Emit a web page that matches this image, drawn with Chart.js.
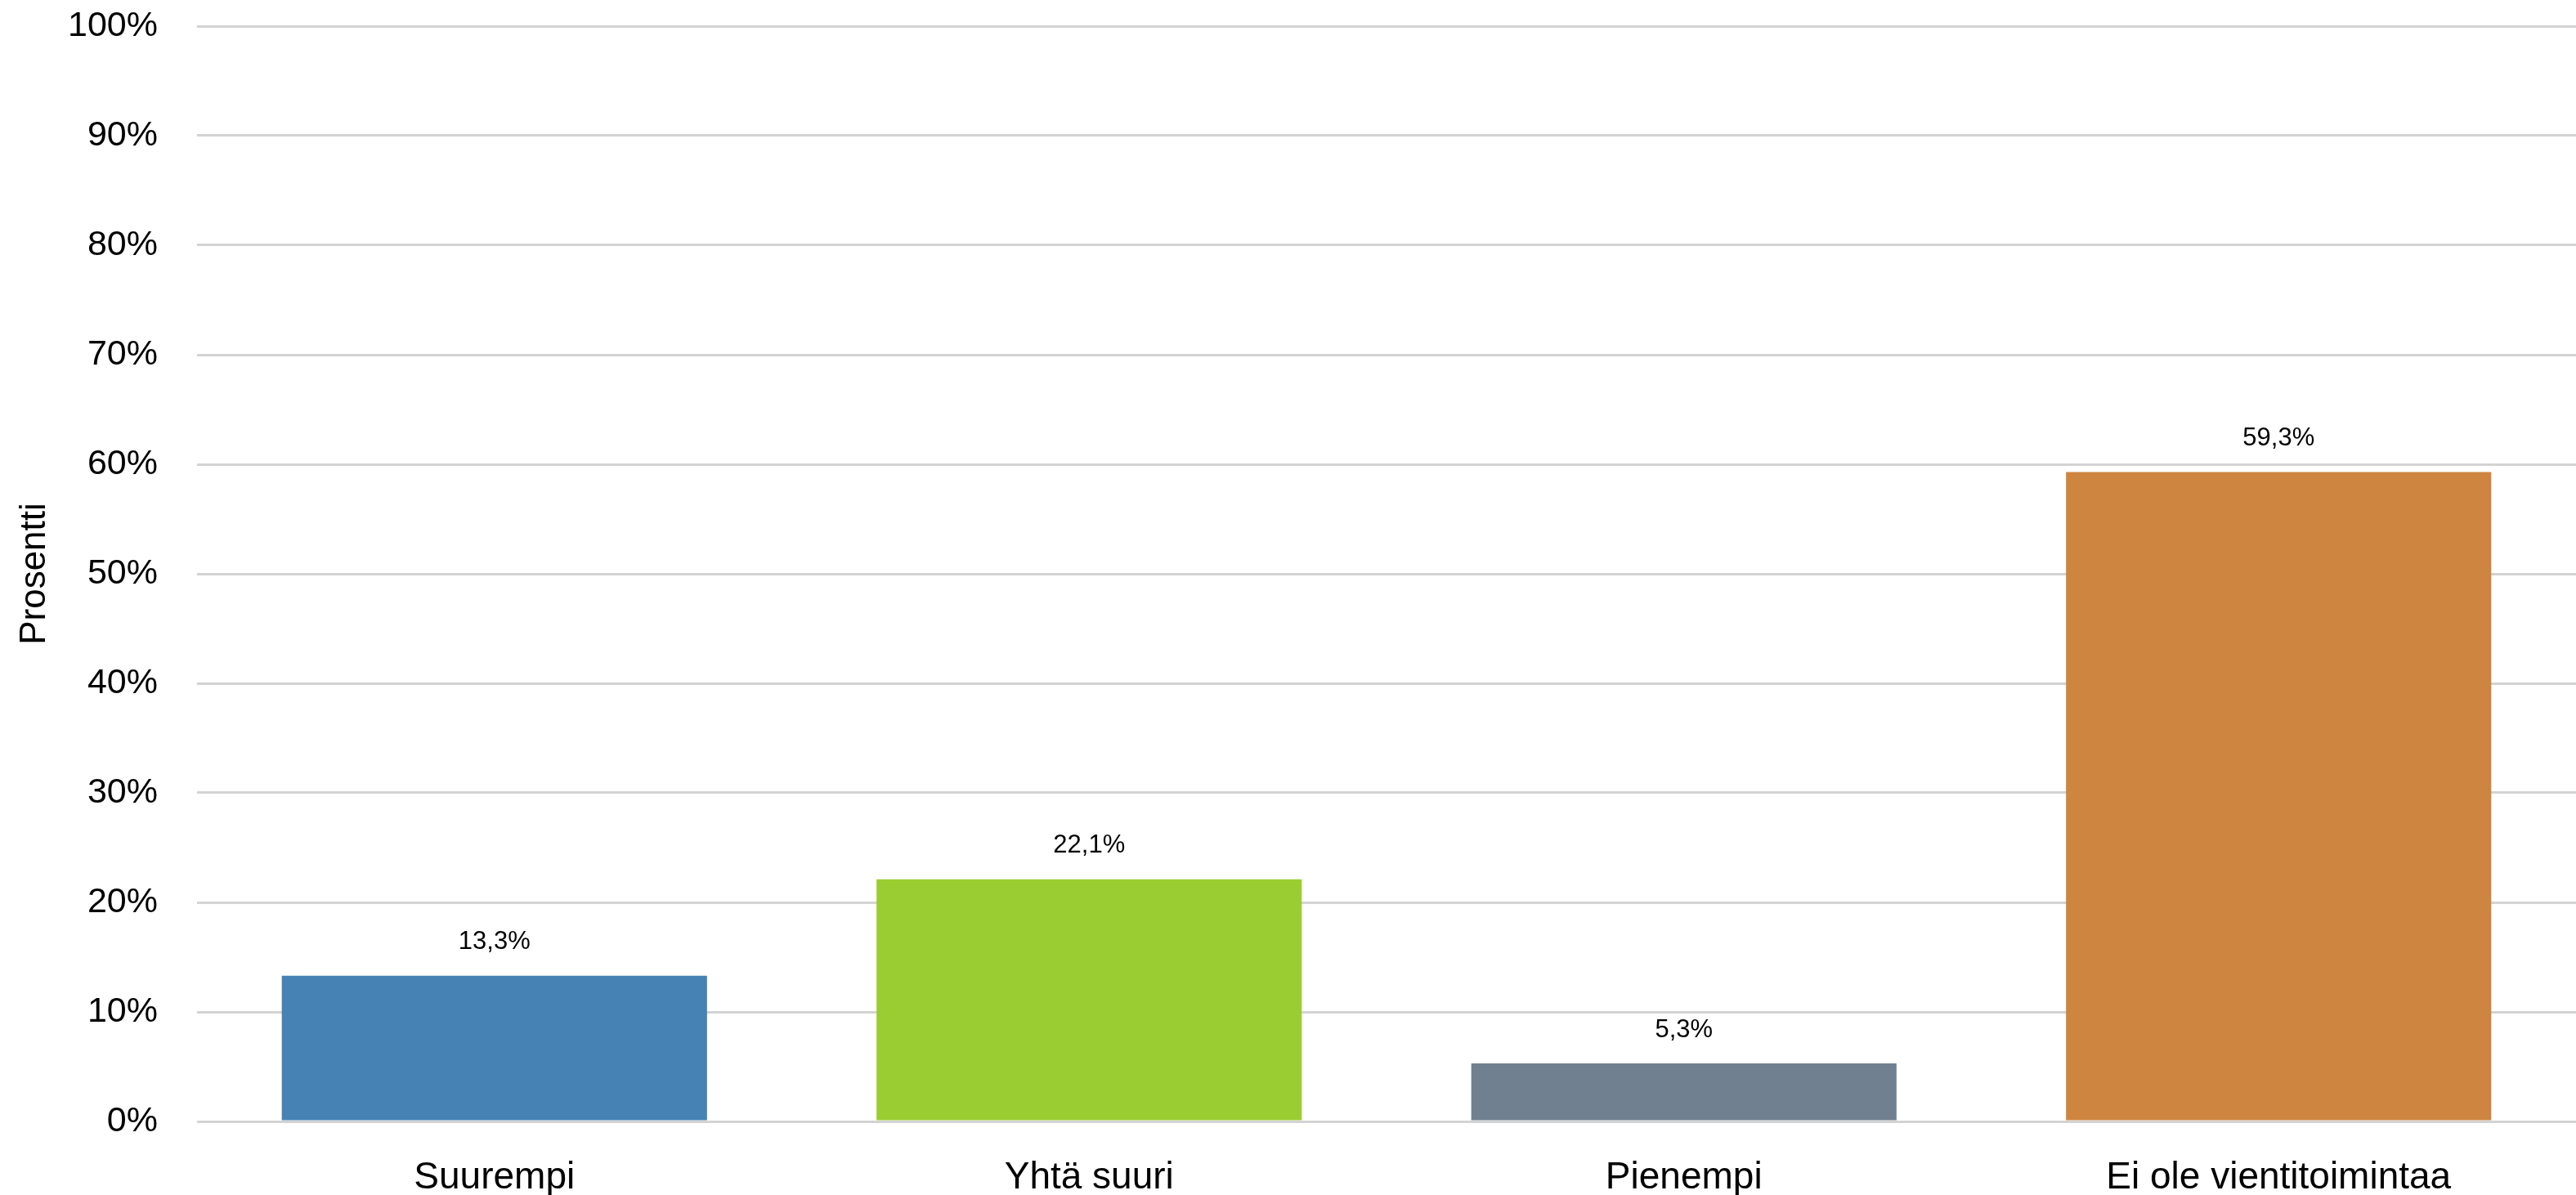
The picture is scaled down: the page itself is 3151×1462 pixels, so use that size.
<!DOCTYPE html>
<html lang="fi">
<head>
<meta charset="UTF-8">
<title>Prosentti</title>
<style>
  html, body { margin: 0; padding: 0; background: #fff; }
  #wrap { width: 3151px; height: 1462px; position: relative; }
</style>
</head>
<body>
<div id="wrap"><canvas id="chart"></canvas></div>
<script src="https://cdn.jsdelivr.net/npm/chart.js"></script>
<script>
const categories = ['Suurempi', 'Yhtä suuri', 'Pienempi', 'Ei ole vientitoimintaa'];
const values = [13.3, 22.1, 5.3, 59.3];
const barColors = ['#4682B4', '#9ACD32', '#708090', '#CD853F'];
const yTicks = [0, 10, 20, 30, 40, 50, 60, 70, 80, 90, 100];

const FONT = "'Liberation Sans', Arial, sans-serif";

// value labels above each bar, placed from the bar elements
const valueLabels = {
  id: 'valueLabels',
  afterDatasetsDraw(chart) {
    const ctx = chart.ctx;
    const meta = chart.getDatasetMeta(0);
    ctx.save();
    ctx.font = '31px ' + FONT;
    ctx.fillStyle = '#000';
    ctx.textAlign = 'center';
    ctx.textBaseline = 'middle';
    meta.data.forEach((bar, i) => {
      const txt = values[i].toFixed(1).replace('.', ',') + '%';
      ctx.fillText(txt, bar.x, bar.y - 41);
    });
    ctx.restore();
  }
};

new Chart(document.getElementById('chart'), {
  type: 'bar',
  data: {
    labels: categories,
    datasets: [{
      data: values,
      backgroundColor: barColors,
      borderWidth: 0,
      barPercentage: 0.715,
      categoryPercentage: 1
    }]
  },
  options: {
    responsive: true,
    maintainAspectRatio: false,
    animation: false,
    layout: { padding: { top: 32, right: 0, bottom: 0, left: 0 } },
    plugins: {
      legend: { display: false },
      tooltip: { enabled: false }
    },
    scales: {
      x: {
        grid: { display: false, drawTicks: false },
        border: { display: false },
        ticks: { color: '#000', font: { family: FONT, size: 46 }, padding: 42 },
        afterFit(s) { s.height = 90; }
      },
      y: {
        min: 0,
        max: 100,
        afterBuildTicks(s) { s.ticks = yTicks.map(v => ({ value: v })); },
        grid: { color: '#D3D3D3', lineWidth: 3, drawTicks: false },
        border: { display: false },
        ticks: {
          color: '#000',
          font: { family: FONT, size: 43 },
          padding: 48,
          callback: v => v + '%'
        },
        title: {
          display: true,
          text: 'Prosentti',
          color: '#000',
          font: { family: FONT, size: 44 },
          padding: { top: 16, bottom: 0 }
        },
        afterFit(s) {
          s.width = 241;
          s.paddingTop = 0;
          s.paddingBottom = 0;
        }
      }
    }
  },
  plugins: [valueLabels]
});
</script>
</body>
</html>
